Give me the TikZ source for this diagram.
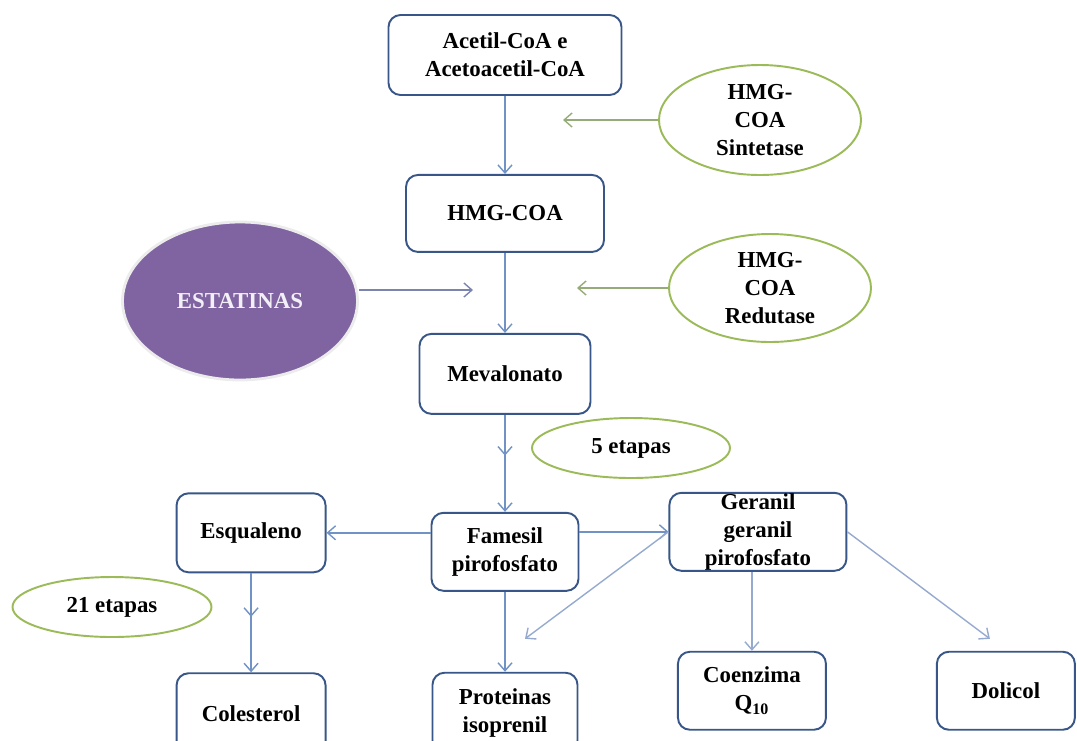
\documentclass[tikz,border=0pt]{standalone}
\usepackage{fontspec}
\setmainfont{Liberation Serif}
\usetikzlibrary{shapes,arrows.meta,positioning,decorations.markings}
\definecolor{borda}{RGB}{56,86,135}
\definecolor{linha}{RGB}{112,146,196}
\definecolor{linhaclara}{RGB}{150,170,208}
\definecolor{verde}{RGB}{155,187,89}
\definecolor{linhaverde}{RGB}{150,172,120}
\definecolor{linhaest}{RGB}{122,132,172}
\definecolor{roxo}{RGB}{128,100,162}
\tikzstyle{caixa}=[draw=borda, line width=1.1pt, rounded corners=2.4mm, fill=white,
align=center, font=\fontsize{13}{16}\selectfont\bfseries]
\tikzstyle{etapa}=[ellipse, draw=verde, line width=1.1pt, align=center, inner sep=0pt,
font=\fontsize{13}{16}\selectfont\bfseries]
\tikzstyle{seta}=[-{Straight Barb[length=1.6mm,width=2.8mm]}, draw=linha, line width=0.8pt]
\tikzstyle{setaverde}=[seta, draw=linhaverde]
\tikzset{dupla/.style={postaction={decorate}, decoration={markings,
  mark=at position #1 with {\arrow{Straight Barb[length=1.6mm,width=2.8mm]}}}}}

\begin{document}
\begin{tikzpicture}
    \useasboundingbox (0,0) rectangle (21.54,-14.8);

    % CADEIA PRINCIPAL
    \node[caixa, minimum width=4.66cm, minimum height=1.6cm] (acetil) at (10.1,-1.1) {Acetil-CoA e\\Acetoacetil-CoA};
    \node[caixa, below=1.56cm of acetil, minimum width=3.96cm, minimum height=1.54cm] (hmg) {HMG-COA};
    \draw[seta] (acetil) -- (hmg);

    \node[caixa, below=1.6cm of hmg, minimum width=3.42cm, minimum height=1.6cm] (meval) {Mevalonato};
    \draw[seta] (hmg) -- (meval);

    \node[caixa, below=1.94cm of meval, minimum width=2.94cm, minimum height=1.56cm] (famesil) {Famesil\\pirofosfato};
    \draw[seta, dupla=0.42] (meval) -- (famesil);

    \node[caixa, below=1.6cm of famesil, minimum width=2.9cm, minimum height=1.6cm] (proteinas) {Proteinas\\isoprenil};
    \draw[seta] (famesil) -- (proteinas);

    % ENZIMAS
    \node[etapa, minimum width=4.04cm, minimum height=2.2cm] (sintetase) at (15.2,-2.4) {HMG-\\COA\\Sintetase};
    \coordinate (sinAlvo) at (11.26,-2.4);
    \draw[setaverde] (sintetase) -- (sinAlvo);

    \node[etapa, minimum width=4.04cm, minimum height=2.16cm] (redutase) at (15.4,-5.76) {HMG-\\COA\\Redutase};
    \coordinate (redAlvo) at (11.54,-5.76);
    \draw[setaverde] (redutase) -- (redAlvo);

    % ESTATINAS
    \node[ellipse, fill=roxo, draw=white!85!gray, line width=1.6pt, minimum width=4.7cm, minimum height=3.16cm,
        text=white!90!roxo, font=\fontsize{13}{16}\selectfont\bfseries] (estatinas) at (4.8,-6.02) {ESTATINAS};
    \coordinate (estAlvo) at (9.46,-5.8);
    \draw[seta, draw=linhaest] (estatinas.east |- estAlvo) -- (estAlvo);

    \node[etapa, minimum width=3.96cm, minimum height=1.2cm] (cinco) at (12.62,-8.96) {5 etapas};

    % RAMO ESQUERDO
    \node[caixa, left=2.08cm of famesil, yshift=0.38cm, minimum width=2.98cm, minimum height=1.58cm] (esqualeno) {Esqualeno};
    \draw[seta] (esqualeno.east -| famesil.west) -- (esqualeno.east);

    \node[caixa, below=1.98cm of esqualeno, minimum width=2.98cm, minimum height=1.6cm] (colesterol) {Colesterol};
    \draw[seta, dupla=0.44] (esqualeno) -- (colesterol);

    \node[etapa, minimum width=3.98cm, minimum height=1.2cm] (vinte) at (2.24,-12.14) {21 etapas};

    % RAMO DIREITO
    \node[caixa, right=1.78cm of famesil, yshift=0.4cm, inner ysep=0pt, minimum width=3.54cm, minimum height=1.56cm] (geranil) {Geranil\\geranil\\pirofosfato};
    \draw[seta] (geranil.west -| famesil.east) -- (geranil.west);

    \node[caixa, below=1.58cm of geranil, xshift=-0.12cm, minimum width=2.96cm, minimum height=1.56cm] (coenzima) {Coenzima\\Q\textsubscript{10}};
    \draw[seta, draw=linhaclara] (coenzima.north |- geranil.south) -- (coenzima.north);

    \node[caixa, right=2.18cm of coenzima, minimum width=2.76cm, minimum height=1.56cm] (dolicol) {Dolicol};
    \draw[seta, draw=linhaclara, shorten >=0.4cm] (geranil.east) -- (dolicol.north);

    \coordinate[above right=0.66cm and 0.4cm of proteinas.north] (isoAlvo);
    \draw[seta, draw=linhaclara] (geranil.west) -- (isoAlvo);

\end{tikzpicture}
\end{document}
